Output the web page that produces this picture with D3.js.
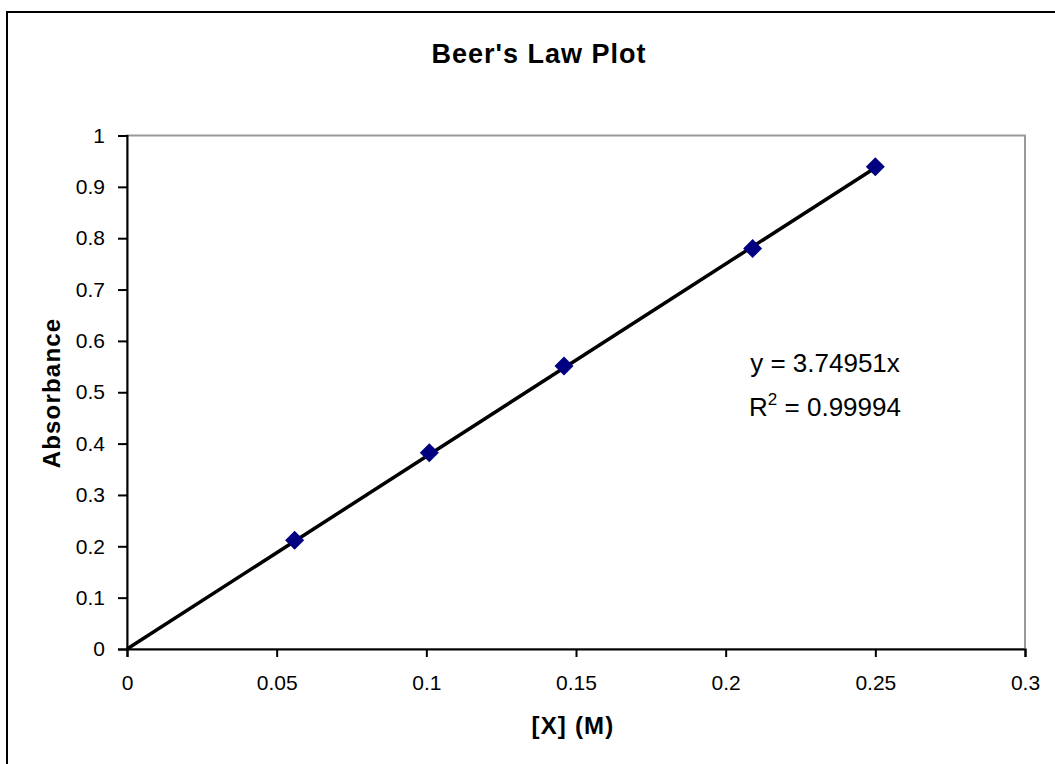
<!DOCTYPE html>
<html>
<head>
<meta charset="utf-8">
<script src="https://cdn.jsdelivr.net/npm/d3@7"></script>
<style>
  html, body { margin: 0; padding: 0; background: #fff; }
  svg { display: block; }
  text { font-family: "Liberation Sans", Arial, sans-serif; fill: #000; }
</style>
</head>
<body>
<svg id="chart" width="1055" height="764"></svg>
<script>
// ---- data ----
const concentration = [0.056, 0.101, 0.146, 0.209, 0.250];
const absorbance = [0.212, 0.382, 0.551, 0.780, 0.939];
const trendX = [0, 0.25];
const slope = 3.74951;
const rSquared = "0.99994";
const xTicks = [0, 0.05, 0.1, 0.15, 0.2, 0.25, 0.3];
const yTicks = [0, 0.1, 0.2, 0.3, 0.4, 0.5, 0.6, 0.7, 0.8, 0.9, 1];
const title = "Beer's Law Plot";
const xTitle = "[X] (M)";
const yTitle = "Absorbance";

const svg = d3.select("#chart");
const W = 1055, H = 764;
const plot = { left: 127, top: 135.5, right: 1025, bottom: 649 };

// outer chart border
svg.append("rect").attr("x", 7).attr("y", 12).attr("width", W).attr("height", H)
  .attr("fill", "#fff").attr("stroke", "#000").attr("stroke-width", 2);

const x = d3.scaleLinear().domain([0, 0.3]).range([plot.left, plot.right]);
const y = d3.scaleLinear().domain([0, 1]).range([plot.bottom, plot.top]);

// plot area border (gray)
svg.append("rect").attr("x", plot.left).attr("y", plot.top)
  .attr("width", plot.right - plot.left).attr("height", plot.bottom - plot.top)
  .attr("fill", "#fff").attr("stroke", "#999").attr("stroke-width", 2);

// axes
const xAxis = d3.axisBottom(x).tickValues(xTicks).tickSize(8).tickPadding(18)
  .tickFormat(d => String(+d.toFixed(2)));
const gx = svg.append("g").attr("transform", `translate(0,${plot.bottom})`).call(xAxis);
gx.select(".domain").attr("stroke", "#000").attr("stroke-width", 2);
gx.selectAll(".tick line").attr("stroke", "#000").attr("stroke-width", 2);
gx.selectAll(".tick text").attr("font-size", 21).attr("font-family", "Liberation Sans, Arial, sans-serif");

const yAxis = d3.axisLeft(y).tickValues(yTicks).tickSize(9).tickPadding(13)
  .tickFormat(d => String(+d.toFixed(1)));
const gy = svg.append("g").attr("transform", `translate(${plot.left},0)`).call(yAxis);
gy.select(".domain").attr("stroke", "#000").attr("stroke-width", 2);
gy.selectAll(".tick line").attr("stroke", "#000").attr("stroke-width", 2);
gy.selectAll(".tick text").attr("font-size", 21).attr("font-family", "Liberation Sans, Arial, sans-serif");

// trendline
const line = d3.line().x(d => x(d)).y(d => y(slope * d));
svg.append("path").datum(trendX).attr("d", line)
  .attr("fill", "none").attr("stroke", "#000").attr("stroke-width", 3.5);

// markers
const sym = d3.symbol().type(d3.symbolDiamond2).size(230);
svg.append("g").selectAll("path").data(concentration).join("path")
  .attr("d", sym)
  .attr("transform", (d, i) => `translate(${x(d)},${y(absorbance[i])})`)
  .attr("fill", "#000080");

// titles
svg.append("text").attr("x", 539).attr("y", 63).attr("text-anchor", "middle")
  .attr("font-size", 27).attr("font-weight", "bold").attr("letter-spacing", 1).text(title);
svg.append("text").attr("x", 573).attr("y", 734).attr("text-anchor", "middle")
  .attr("font-size", 24).attr("font-weight", "bold").attr("letter-spacing", 1.2).text(xTitle);
svg.append("text").attr("transform", "translate(60,393) rotate(-90)").attr("text-anchor", "middle")
  .attr("font-size", 24).attr("font-weight", "bold").attr("letter-spacing", 1.2).text(yTitle);

// equation annotation
svg.append("text").attr("x", 825).attr("y", 372).attr("text-anchor", "middle")
  .attr("font-size", 26).text(`y = ${slope}x`);
const r2 = svg.append("text").attr("x", 825).attr("y", 416).attr("text-anchor", "middle")
  .attr("font-size", 26);
r2.append("tspan").text("R");
r2.append("tspan").attr("dy", -11).attr("font-size", 17).text("2");
r2.append("tspan").attr("dy", 11).text(` = ${rSquared}`);
</script>
</body>
</html>
